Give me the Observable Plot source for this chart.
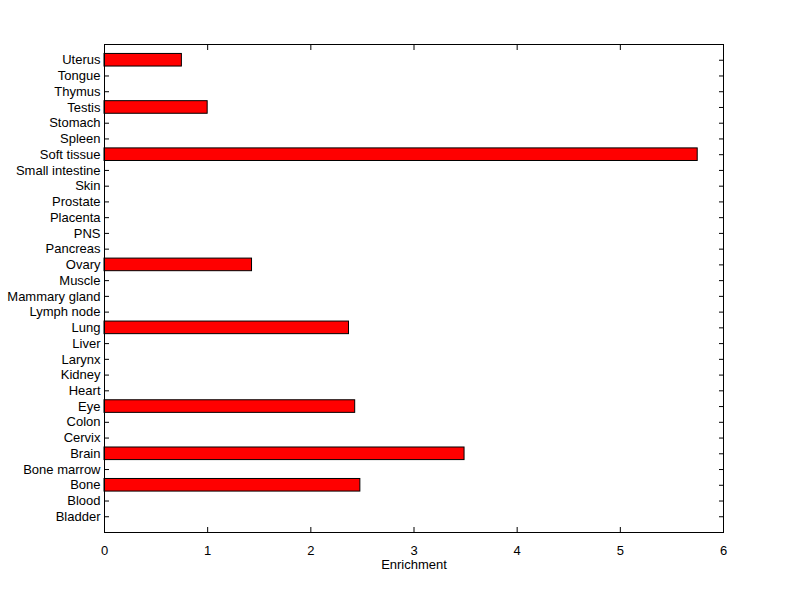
<!DOCTYPE html>
<html>
<head>
<meta charset="utf-8">
<script src="https://cdn.jsdelivr.net/npm/d3@7"></script>
<script src="https://cdn.jsdelivr.net/npm/@observablehq/plot@0.6"></script>
<style>
  html, body { margin: 0; padding: 0; background: #fff; }
  svg { display: block; }
</style>
</head>
<body>
<div id="chart"></div>
<script>
// Categories from bottom (Bladder) to top (Uterus)
const tissues = ["Bladder", "Blood", "Bone", "Bone marrow", "Brain", "Cervix", "Colon", "Eye", "Heart", "Kidney", "Larynx", "Liver", "Lung", "Lymph node", "Mammary gland", "Muscle", "Ovary", "Pancreas", "PNS", "Placenta", "Prostate", "Skin", "Small intestine", "Soft tissue", "Spleen", "Stomach", "Testis", "Thymus", "Tongue", "Uterus"];
const enrichment = [0, 0, 2.48, 0, 3.49, 0, 0, 2.43, 0, 0, 0, 0, 2.37, 0, 0, 0, 1.43, 0, 0, 0, 0, 0, 0, 5.75, 0, 0, 1.0, 0, 0, 0.75];
const xTicks = [0, 1, 2, 3, 4, 5, 6];
const xLabel = "Enrichment";

const barWidth = 0.8;
const data = tissues.map((t, i) => ({tissue: t, pos: i + 1, value: enrichment[i]}));
const bars = data.filter(d => d.value > 0);
const yTicks = data.map(d => d.pos);
const yName = p => tissues[p - 1];
const font = "'Liberation Sans', Arial, sans-serif";

const chart = Plot.plot({
  width: 800,
  height: 599,
  marginLeft: 104,
  marginRight: 77,
  marginTop: 44,
  marginBottom: 67,
  style: {fontFamily: font, fontSize: "13px", color: "#000", background: "#fff"},
  x: {domain: [0, 6], ticks: xTicks},
  y: {domain: [0, tissues.length + 1]},
  marks: [
    // inward ticks on all four sides (drawn beneath the bars)
    Plot.axisY(yTicks, {anchor: "left", tickSize: -5, tickFormat: () => "", label: null}),
    Plot.axisY(yTicks, {anchor: "right", tickSize: -5, tickFormat: () => "", label: null}),
    Plot.axisX(xTicks, {anchor: "bottom", tickSize: -5, tickFormat: () => "", label: null}),
    Plot.axisX(xTicks, {anchor: "top", tickSize: -5, tickFormat: () => "", label: null}),
    Plot.rectX(bars, {
      x1: 0,
      x2: "value",
      y1: d => d.pos - barWidth / 2,
      y2: d => d.pos + barWidth / 2,
      fill: "#ff0000", stroke: "#000", strokeWidth: 1
    }),
    Plot.frame({stroke: "#000", strokeWidth: 1}),
    // labels
    Plot.axisY(yTicks, {anchor: "left", tickSize: 0, tickPadding: 4, tickFormat: yName, label: null, fontSize: 13}),
    Plot.axisX(xTicks, {anchor: "bottom", tickSize: 0, tickPadding: 13, tickFormat: d => String(d), label: xLabel, labelAnchor: "center", labelArrow: "none", labelOffset: 36, fontSize: 13})
  ]
});
document.getElementById("chart").appendChild(chart);
</script>
</body>
</html>
